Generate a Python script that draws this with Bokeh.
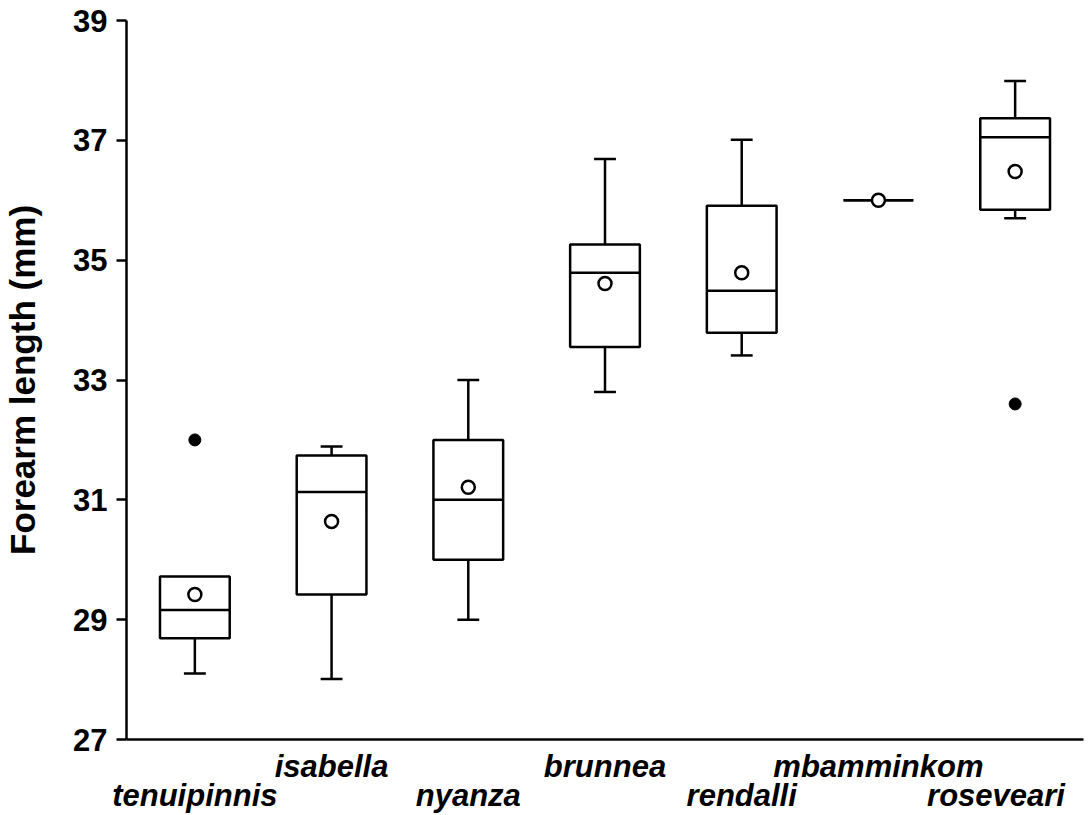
from bokeh.plotting import figure
from bokeh.models import LinearAxis, FixedTicker, Range1d, ColumnDataSource
from bokeh.embed import file_html
from bokeh.resources import INLINE

# ---- data ----
categories = ["tenuipinnis", "isabella", "nyanza", "brunnea", "rendalli", "mbamminkom", "roseveari"]
whisker_low = [28.10, 28.01, 29.00, 32.80, 33.41, 36.00, 35.70]
q1 = [28.69, 29.42, 30.00, 33.55, 33.79, 36.00, 35.84]
median = [29.16, 31.13, 31.00, 34.79, 34.49, 36.00, 37.05]
q3 = [29.72, 31.74, 32.00, 35.26, 35.91, 36.00, 37.37]
whisker_high = [29.72, 31.89, 33.00, 36.69, 37.01, 36.00, 37.99]
means = [29.42, 30.64, 31.21, 34.61, 34.79, 36.00, 36.48]
outlier_cats = ["tenuipinnis", "roseveari"]
outlier_vals = [32.00, 32.60]
y_ticks = [27, 29, 31, 33, 35, 37, 39]

# ---- styling ----
FONT = "Liberation Sans"
BOX_W = 0.51
CAP_W = 0.16
LW = 2.5

xs = list(range(len(categories)))

p = figure(width=1089, height=815,
           x_range=Range1d(-0.5, 6.5), y_range=Range1d(27, 39),
           output_backend="svg", toolbar_location=None,
           x_axis_location=None, y_axis_location="left",
           min_border_left=126, min_border_right=6,
           min_border_top=20, min_border_bottom=73)
p.outline_line_color = None
p.xgrid.visible = False
p.ygrid.visible = False
p.background_fill_color = "white"
p.border_fill_color = "white"

# y axis
ya = p.yaxis[0]
ya.ticker = FixedTicker(ticks=y_ticks)
ya.minor_tick_line_color = None
ya.major_tick_in = 0
ya.major_tick_out = 10
ya.axis_line_width = LW
ya.major_tick_line_width = LW
ya.axis_line_color = "black"
ya.major_tick_line_color = "black"
ya.major_label_text_font = FONT
ya.major_label_text_font_style = "bold"
ya.major_label_text_font_size = "31px"
ya.major_label_text_color = "black"
ya.major_label_standoff = 9
ya.axis_label = "Forearm length (mm)"
ya.axis_label_text_font = FONT
ya.axis_label_text_font_style = "bold"
ya.axis_label_text_font_size = "35px"
ya.axis_label_text_color = "black"
ya.axis_label_standoff = 28

# x axes: staggered category labels
upper_idx = [i for i in xs if i % 2 == 1]
lower_idx = [i for i in xs if i % 2 == 0]
label_shift = {6: -0.14}
upper_pos = [i + label_shift.get(i, 0) for i in upper_idx]
lower_pos = [i + label_shift.get(i, 0) for i in lower_idx]

ax1 = LinearAxis(ticker=FixedTicker(ticks=upper_pos),
                 major_label_overrides={pos: categories[i] for pos, i in zip(upper_pos, upper_idx)})
ax2 = LinearAxis(ticker=FixedTicker(ticks=lower_pos),
                 major_label_overrides={pos: categories[i] for pos, i in zip(lower_pos, lower_idx)})
for ax in (ax1, ax2):
    ax.major_tick_line_color = None
    ax.minor_tick_line_color = None
    ax.major_tick_in = 0
    ax.major_tick_out = 0
    ax.major_label_text_font = FONT
    ax.major_label_text_font_style = "bold italic"
    ax.major_label_text_font_size = "31px"
    ax.major_label_text_color = "black"
ax1.axis_line_width = LW
ax1.axis_line_color = "black"
ax1.major_label_standoff = 9
ax2.axis_line_color = None
ax2.major_label_standoff = -9
p.add_layout(ax1, "below")
p.add_layout(ax2, "below")

# ---- boxes ----
src = ColumnDataSource(dict(
    x=xs, q1=q1, q3=q3, med=median, lo=whisker_low, hi=whisker_high, mean=means,
    xl=[x - BOX_W / 2 for x in xs], xr=[x + BOX_W / 2 for x in xs],
))

p.segment(x0="x", y0="q3", x1="x", y1="hi", source=src, line_color="black", line_width=LW)
p.segment(x0="x", y0="lo", x1="x", y1="q1", source=src, line_color="black", line_width=LW)
p.vbar(x="x", width=BOX_W, bottom="q1", top="q3", source=src,
       fill_color="white", line_color="black", line_width=LW)
p.segment(x0="xl", y0="med", x1="xr", y1="med", source=src, line_color="black", line_width=LW)

# whisker caps (only where a whisker extends beyond the box)
cap_hi = [(x, h) for x, h, t in zip(xs, whisker_high, q3) if h > t]
cap_lo = [(x, l) for x, l, b in zip(xs, whisker_low, q1) if l < b]
caps = cap_hi + cap_lo
p.segment(x0=[c[0] - CAP_W / 2 for c in caps], x1=[c[0] + CAP_W / 2 for c in caps],
          y0=[c[1] for c in caps], y1=[c[1] for c in caps], line_color="black", line_width=LW)

# means
p.scatter(x="x", y="mean", source=src, size=13, marker="circle",
          fill_color="white", line_color="black", line_width=LW)

# outliers
ox = [categories.index(c) for c in outlier_cats]
p.scatter(x=ox, y=outlier_vals, size=12, marker="circle", fill_color="black", line_color="black")

open("out.html", "w").write(file_html(p, INLINE))
